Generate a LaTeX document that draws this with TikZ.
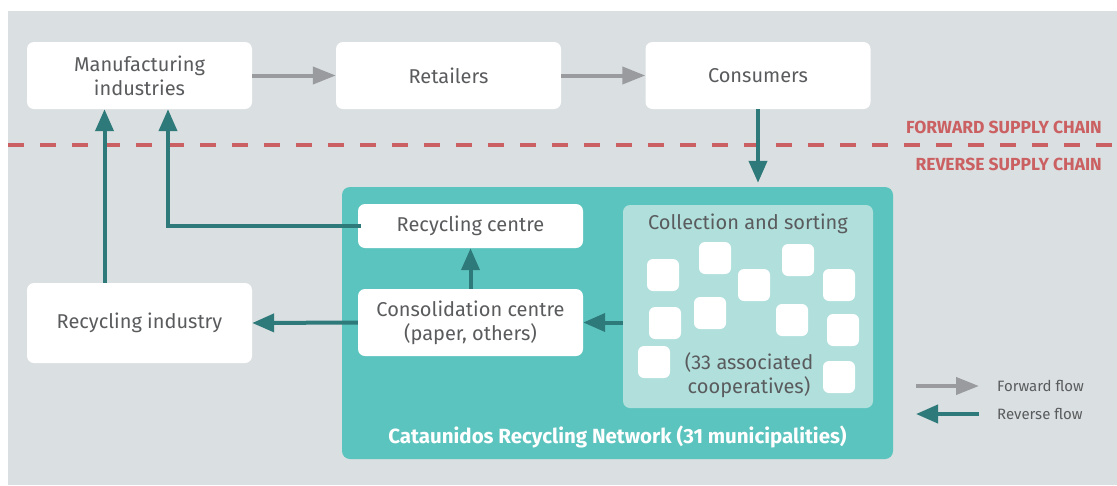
\documentclass[tikz,border=0pt]{standalone}
\usepackage{fontspec}
\setmainfont{Fira Sans}
\usetikzlibrary{arrows.meta}
\definecolor{bg}{HTML}{DADFE1}
\definecolor{txt}{HTML}{5A5B5D}
\definecolor{teal1}{HTML}{5CC4BE}
\definecolor{teal2}{HTML}{B0DFDC}
\definecolor{dteal}{HTML}{2E7979}
\definecolor{garrow}{HTML}{9A9B9F}
\definecolor{redc}{HTML}{CB6062}
\tikzset{
  box/.style={fill=white, rounded corners=7pt, minimum width=225pt, minimum height=67pt, align=center, text=txt, font=\fontsize{20}{24}\selectfont, inner sep=0pt},
  sq/.style={fill=white, rounded corners=6pt, minimum size=32pt, inner sep=0pt},
  fwd/.style={draw=garrow, line width=4pt, -{Triangle[length=23pt,width=17pt]}},
  rev/.style={draw=dteal, line width=4pt, -{Triangle[length=22pt,width=18pt]}},
  redlabel/.style={text=redc, font=\bfseries\fontsize{17.5}{20}\selectfont, anchor=east, inner sep=0pt},
  legtext/.style={text=txt, font=\fontsize{15}{18}\selectfont, anchor=west, inner sep=0pt},
}
\begin{document}
\begin{tikzpicture}[x=1pt,y=-1pt]
\useasboundingbox (0,0) rectangle (1117,485);
\fill[bg] (8,11) rectangle (1117,485);
% dashed line
\draw[redc, line width=4pt, dash pattern=on 16pt off 16pt] (8,145) -- (1117,145);
\node[redlabel] (fsc) at (1102,127) {FORWARD SUPPLY CHAIN};
\node[redlabel] (rsc) at (1102,164) {REVERSE SUPPLY CHAIN};
% top row
\node[box] (man) at (139.5,75.5) {Manufacturing\\industries};
\node[box] (ret) at (448.5,75.5) {Retailers};
\node[box] (con) at (758,75.5) {Consumers};
% network
\node[fill=teal1, rounded corners=8pt, minimum width=551pt, minimum height=272pt, inner sep=0pt] (net) at (617.5,323) {};
\node[fill=teal2, rounded corners=7pt, minimum width=250pt, minimum height=203pt, inner sep=0pt] (coll) at (748,306.5) {};
\node[text=txt, font=\fontsize{20}{24}\selectfont, inner sep=0pt] (colltitle) at (748,224) {Collection and sorting};
\node[sq] (s1) at (663,275) {};
\node[sq] (s2) at (715,258) {};
\node[sq] (s3) at (754,285) {};
\node[sq] (s4) at (798,260) {};
\node[sq] (s5) at (839,285) {};
\node[sq] (s6) at (665,323) {};
\node[sq] (s7) at (710,313) {};
\node[sq] (s8) at (792,320) {};
\node[sq] (s9) at (843,330) {};
\node[sq] (s10) at (654,362) {};
\node[sq] (s11) at (839,377) {};
\node[text=txt, font=\fontsize{20}{24}\selectfont, align=center, inner sep=0pt] (coop) at (749,375) {(33 associated\\cooperatives)};
\node[box, minimum height=44pt] (rcc) at (470.5,226) {\raisebox{-2pt}{Recycling centre}};
\node[box] (cons) at (470.5,322.5) {Consolidation centre\\(paper, others)};
\node[box, minimum height=80pt] (recind) at (139.5,323) {\raisebox{-2pt}{Recycling industry}};
\node[text=white, font=\bfseries\fontsize{20.5}{24}\selectfont, inner sep=0pt] (netlabel) at (617.5,437) {Cataunidos Recycling Network (31 municipalities)};
% forward arrows
\draw[fwd] (man.east) -- (ret.west);
\draw[fwd] (ret.east) -- (con.west);
% reverse arrows
\draw[rev, shorten >=4pt] (con.south) -- (con.south |- net.north);
\draw[rev] ([xshift=-35pt]recind.north) -- ([xshift=-35pt]man.south);
\draw[rev] ([xshift=3pt]rcc.west) -| ([xshift=28.5pt]man.south);
\draw[rev] (cons.north) -- (rcc.south);
\draw[rev] (cons.east -| coll.west) -- (cons.east);
\draw[rev] (cons.west) -- (recind.east);
% legend
\coordinate (lf1) at (916,386);
\coordinate (lf2) at (979,386);
\coordinate (lr1) at (979,414);
\coordinate (lr2) at (916,414);
\draw[fwd] (lf1) -- (lf2);
\draw[rev] (lr1) -- (lr2);
\node[legtext] (lft) at (997,386) {Forward flow};
\node[legtext] (lrt) at (997,414) {Reverse flow};
\end{tikzpicture}
\end{document}
